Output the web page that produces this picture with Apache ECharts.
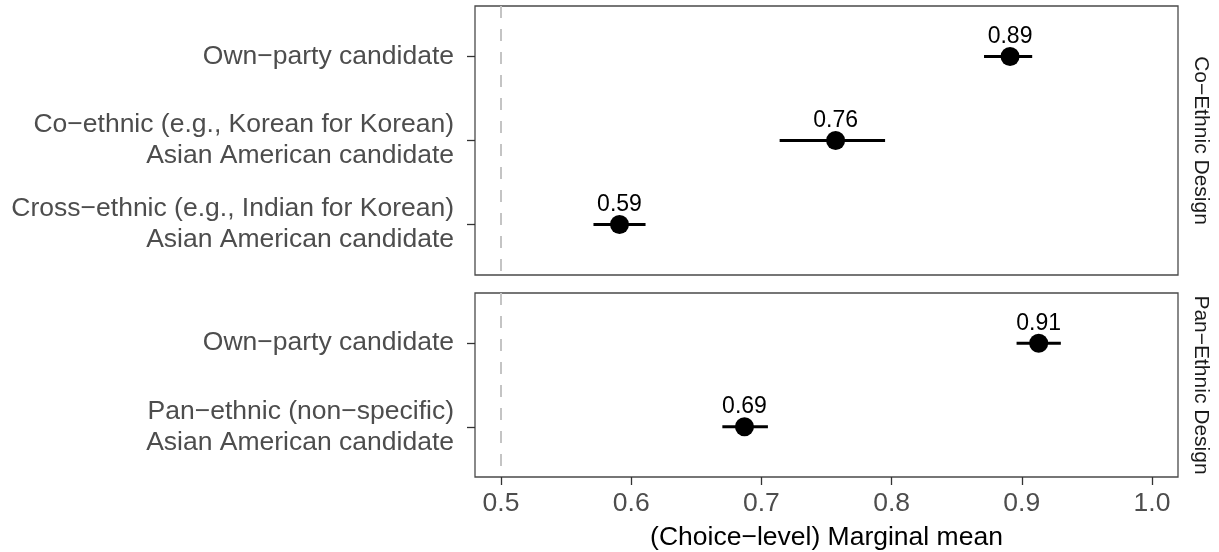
<!DOCTYPE html>
<html>
<head>
<meta charset="utf-8">
<script src="https://cdn.jsdelivr.net/npm/echarts@6/dist/echarts.min.js"></script>
<style>
  html, body { margin: 0; padding: 0; background: #fff; }
  #chart { width: 1219px; height: 552px; }
</style>
</head>
<body>
<div id="chart"></div>
<script>
// Co-ethnic design panel
const coCategories = [
  'Own\u2212party candidate',
  'Co\u2212ethnic (e.g., Korean for Korean)\nAsian American candidate',
  'Cross\u2212ethnic (e.g., Indian for Korean)\nAsian American candidate'
];
const coEstimate = [0.891, 0.757, 0.591];
const coLower = [0.871, 0.714, 0.571];
const coUpper = [0.908, 0.795, 0.611];

// Pan-ethnic design panel
const panCategories = [
  'Own\u2212party candidate',
  'Pan\u2212ethnic (non\u2212specific)\nAsian American candidate'
];
const panEstimate = [0.913, 0.687];
const panLower = [0.896, 0.670];
const panUpper = [0.930, 0.705];

const xTicks = [0.5, 0.6, 0.7, 0.8, 0.9, 1.0];
const panelTitles = ['Co\u2212Ethnic Design', 'Pan\u2212Ethnic Design'];
const referenceLine = 0.5;
const xTitle = '(Choice\u2212level) Marginal mean';

const FONT = '"Liberation Sans", Arial, Helvetica, sans-serif';

const panels = [
  { cats: coCategories, est: coEstimate, lo: coLower, hi: coUpper },
  { cats: panCategories, est: panEstimate, lo: panLower, hi: panUpper }
];

const grids = [
  { left: 475, top: 6, width: 706, height: 269 },
  { left: 475, top: 293, width: 706, height: 184 }
].map(g => Object.assign(g, { show: true, borderColor: '#4a4a4a', borderWidth: 1.3, backgroundColor: '#fff' }));

const xAxes = panels.map((p, i) => ({
  type: 'value', gridIndex: i, min: 0.48, max: 1.02, position: 'bottom',
  splitLine: { show: false },
  axisLine: { show: false, onZero: false },
  axisTick: { show: i === 1, length: 8, customValues: xTicks, lineStyle: { color: '#333', width: 1.3 } },
  axisLabel: {
    show: i === 1, customValues: xTicks, margin: 13,
    formatter: v => v.toFixed(1),
    color: '#4D4D4D', fontSize: 26.5, fontFamily: FONT
  },
  name: i === 1 ? xTitle : '',
  nameLocation: 'middle', nameGap: 47,
  nameTextStyle: { color: '#000', fontSize: 26.5, fontFamily: FONT }
}));

const yAxes = [];
panels.forEach((p, i) => {
  const idx = p.cats.map((_, k) => k);
  yAxes.push({
    type: 'value', gridIndex: i, inverse: true,
    min: -0.6, max: p.cats.length - 1 + 0.6,
    splitLine: { show: false },
    axisLine: { show: false, onZero: false },
    axisTick: { show: true, length: 8, customValues: idx, lineStyle: { color: '#333', width: 1.3 } },
    axisLabel: {
      customValues: idx, margin: 21,
      formatter: v => p.cats[Math.round(v)] || '',
      color: '#4D4D4D', fontSize: 26.5, lineHeight: 31, align: 'right', fontFamily: FONT
    }
  });
  // strip label on the right side of each panel
  yAxes.push({
    type: 'value', gridIndex: i, position: 'right', inverse: true,
    min: -0.6, max: p.cats.length - 1 + 0.6,
    axisLine: { show: false, onZero: false }, axisTick: { show: false }, axisLabel: { show: false },
    splitLine: { show: false },
    name: panelTitles[i], nameLocation: 'middle', nameRotate: -90, nameGap: 12,
    nameTextStyle: { color: '#1A1A1A', fontSize: 21, fontFamily: FONT }
  });
});

const series = [];
panels.forEach((p, i) => {
  const yIdx = i * 2;
  // confidence intervals
  series.push({
    type: 'custom', xAxisIndex: i, yAxisIndex: yIdx,
    data: p.est.map((_, k) => [p.lo[k], p.hi[k], k]),
    renderItem: (params, api) => {
      const a = api.coord([api.value(0), api.value(2)]);
      const b = api.coord([api.value(1), api.value(2)]);
      return {
        type: 'line',
        shape: { x1: a[0], y1: a[1], x2: b[0], y2: b[1] },
        style: { stroke: '#000', lineWidth: 3 }
      };
    },
    encode: { x: [0, 1], y: 2 },
    z: 3,
    markLine: {
      silent: true, symbol: 'none', label: { show: false },
      lineStyle: { type: [12, 11], color: '#C4C4C4', width: 2 },
      data: [{ xAxis: referenceLine }],
      z: 1
    }
  });
  // point estimates with value labels
  series.push({
    type: 'scatter', xAxisIndex: i, yAxisIndex: yIdx,
    symbol: 'circle', symbolSize: 19,
    itemStyle: { color: '#000', opacity: 1 },
    data: p.est.map((v, k) => [v, k]),
    label: {
      show: true, position: 'inside', offset: [0, -20],
      formatter: d => d.value[0].toFixed(2),
      color: '#000', fontSize: 23, fontFamily: FONT
    },
    z: 4
  });
});

const chart = echarts.init(document.getElementById('chart'), null, { renderer: 'canvas' });
chart.setOption({
  animation: false,
  backgroundColor: '#fff',
  grid: grids,
  xAxis: xAxes,
  yAxis: yAxes,
  series: series
});
</script>
</body>
</html>
